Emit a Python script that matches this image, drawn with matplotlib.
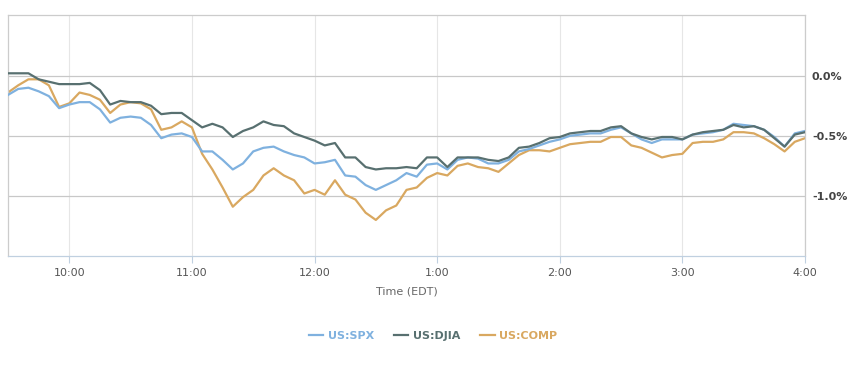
import numpy as np
import matplotlib
matplotlib.use("Agg")
import matplotlib.pyplot as plt

# minutes after 9:30, 5-minute samples
minutes = np.arange(0, 391, 5)

spx = [-0.16, -0.11, -0.10, -0.13, -0.17, -0.27, -0.24, -0.22, -0.22, -0.28,
       -0.39, -0.35, -0.34, -0.35, -0.41, -0.52, -0.49, -0.48, -0.51, -0.63,
       -0.63, -0.70, -0.78, -0.73, -0.63, -0.60, -0.59, -0.63, -0.66, -0.68,
       -0.73, -0.72, -0.70, -0.83, -0.84, -0.91, -0.95, -0.91, -0.87, -0.81,
       -0.84, -0.74, -0.73, -0.78, -0.70, -0.68, -0.69, -0.73, -0.73, -0.70,
       -0.63, -0.61, -0.58, -0.55, -0.53, -0.50, -0.49, -0.48, -0.48, -0.45,
       -0.43, -0.48, -0.53, -0.56, -0.53, -0.53, -0.53, -0.49, -0.48, -0.47,
       -0.45, -0.40, -0.41, -0.42, -0.45, -0.51, -0.59, -0.48, -0.46]

djia = [0.02, 0.02, 0.02, -0.03, -0.05, -0.07, -0.07, -0.07, -0.06, -0.12,
        -0.24, -0.21, -0.22, -0.22, -0.25, -0.32, -0.31, -0.31, -0.37, -0.43,
        -0.40, -0.43, -0.51, -0.46, -0.43, -0.38, -0.41, -0.42, -0.48, -0.51,
        -0.54, -0.58, -0.56, -0.68, -0.68, -0.76, -0.78, -0.77, -0.77, -0.76,
        -0.77, -0.68, -0.68, -0.76, -0.68, -0.68, -0.68, -0.70, -0.71, -0.68,
        -0.60, -0.59, -0.56, -0.52, -0.51, -0.48, -0.47, -0.46, -0.46, -0.43,
        -0.42, -0.48, -0.51, -0.53, -0.51, -0.51, -0.53, -0.49, -0.47, -0.46,
        -0.45, -0.41, -0.43, -0.42, -0.45, -0.52, -0.59, -0.49, -0.47]

comp = [-0.14, -0.08, -0.03, -0.03, -0.08, -0.26, -0.23, -0.14, -0.16, -0.20,
        -0.31, -0.24, -0.22, -0.23, -0.28, -0.45, -0.43, -0.38, -0.43, -0.65,
        -0.78, -0.93, -1.09, -1.01, -0.95, -0.83, -0.77, -0.83, -0.87, -0.98,
        -0.95, -0.99, -0.87, -0.99, -1.03, -1.14, -1.20, -1.12, -1.08, -0.95,
        -0.93, -0.85, -0.81, -0.83, -0.75, -0.73, -0.76, -0.77, -0.80, -0.73,
        -0.66, -0.62, -0.62, -0.63, -0.60, -0.57, -0.56, -0.55, -0.55, -0.51,
        -0.51, -0.58, -0.60, -0.64, -0.68, -0.66, -0.65, -0.56, -0.55, -0.55,
        -0.53, -0.47, -0.47, -0.48, -0.52, -0.57, -0.63, -0.55, -0.52]

hour_ticks = [30, 90, 150, 210, 270, 330, 390]
hour_labels = ["10:00", "11:00", "12:00", "1:00", "2:00", "3:00", "4:00"]
pct_ticks = [0.0, -0.5, -1.0]
pct_labels = ["0.0%", "-0.5%", "-1.0%"]

fig = plt.figure(figsize=(8.54, 3.66), dpi=100)
ax = fig.add_axes([8 / 854, 1 - 256 / 366, 797 / 854, 241 / 366])

ax.plot(minutes, spx, color="#7fb1df", lw=1.6, label="US:SPX", zorder=3)
ax.plot(minutes, djia, color="#587070", lw=1.6, label="US:DJIA", zorder=4)
ax.plot(minutes, comp, color="#d9a860", lw=1.6, label="US:COMP", zorder=2)

ax.set_xlim(0, 390)
ax.set_ylim(-1.5, 0.505)

ax.set_xticks(hour_ticks)
ax.set_xticklabels(hour_labels, fontsize=8, color="#555555")
ax.set_yticks(pct_ticks)
ax.set_yticklabels(pct_labels, fontsize=8, color="#444444", fontweight="bold")
ax.yaxis.tick_right()
ax.tick_params(axis="y", length=0, pad=5)
ax.tick_params(axis="x", length=5, color="#c0d0e0", pad=4)

for v in hour_ticks:
    ax.axvline(v, color="#e6e6e6", lw=0.8, zorder=0)
for v in pct_ticks:
    ax.axhline(v, color="#c8c8c8", lw=0.9, zorder=1)

for s in ["top", "left", "right"]:
    ax.spines[s].set_color("#cccccc")
    ax.spines[s].set_linewidth(0.9)
ax.spines["bottom"].set_color("#c0d0e0")
ax.spines["bottom"].set_linewidth(0.9)

ax.set_xlabel("Time (EDT)", fontsize=8, color="#666666", labelpad=6)

leg = fig.legend(loc="center", bbox_to_anchor=(433 / 854, 1 - 336 / 366), ncol=3,
                 frameon=False, handlelength=1.3, handletextpad=0.4, columnspacing=1.8,
                 prop={"weight": "bold", "size": 8}, labelcolor="linecolor")

fig.savefig("out.png", dpi=100)
